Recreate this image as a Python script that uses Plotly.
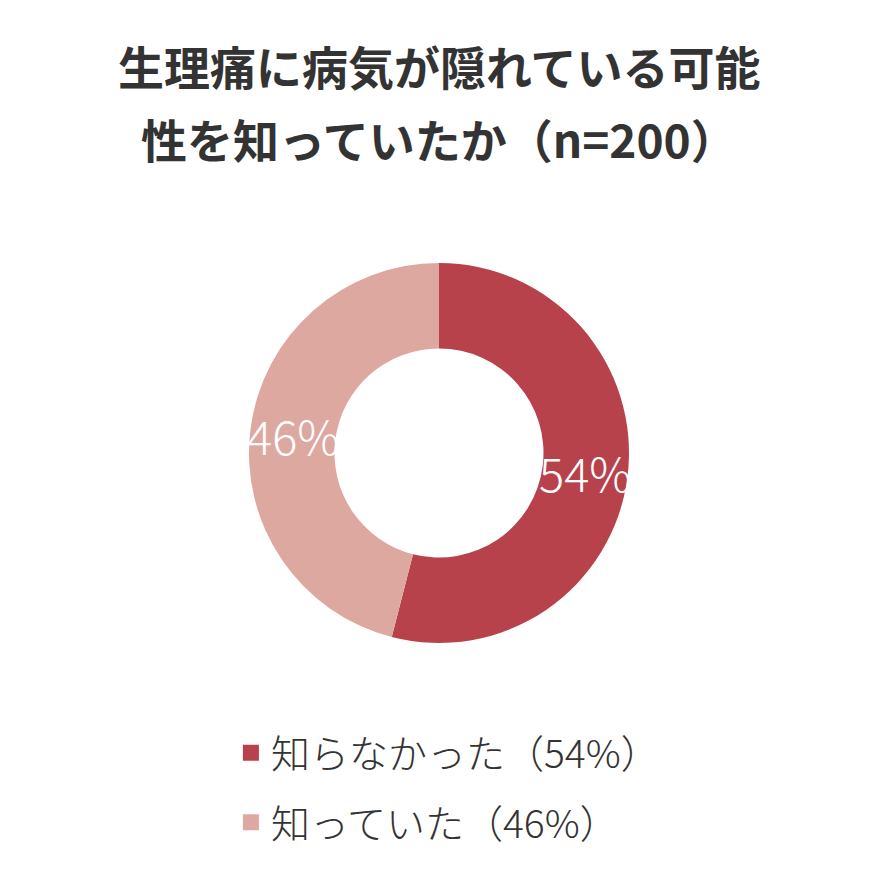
import math
import plotly.graph_objects as go

labels = ["知らなかった", "知っていた"]
values = [54, 46]
colors = ["#B8424B", "#DDA8A0"]
title_lines = ["生理痛に病気が隠れている可能", "性を知っていたか（n=200）"]

FONT = "Noto Sans CJK JP"
LIGHT = "Noto Sans CJK JP Light, Noto Sans CJK JP"
W, H = 878, 879
HOLE = 0.55
dom_x = [0.2836, 0.7164]
dom_y = [0.2685, 0.7008]

fig = go.Figure()
fig.add_trace(go.Pie(
    labels=labels, values=values, hole=HOLE, sort=False, direction="clockwise",
    rotation=0, marker=dict(colors=colors, line=dict(width=0)),
    textinfo="none",
    domain=dict(x=dom_x, y=dom_y),
    showlegend=False, hoverinfo="skip",
))

# percentage labels at the middle angle of each slice, mid-ring radius
cx = (dom_x[0] + dom_x[1]) / 2 * W
cy = (dom_y[0] + dom_y[1]) / 2 * H
r_out = min((dom_x[1] - dom_x[0]) * W, (dom_y[1] - dom_y[0]) * H) / 2
r_mid = r_out * (1 + HOLE) / 2
total = sum(values)
cum = 0
for v in values:
    mid = (cum + v / 2) / total * 2 * math.pi
    cum += v
    px = cx + r_mid * math.sin(mid)
    py = cy + r_mid * math.cos(mid)
    fig.add_annotation(
        x=px / W, y=py / H, xref="paper", yref="paper", showarrow=False,
        text=f"{round(v / total * 100)}%",
        font=dict(family=LIGHT, size=47, color="white", weight=300),
        xanchor="center", yanchor="middle",
    )

for i, (lab, val, col) in enumerate(zip(labels, values, colors)):
    fig.add_trace(go.Scatter(
        x=[None], y=[None], mode="markers", name=f"{lab}（{val}%）",
        legendgroup=f"g{i}",
        marker=dict(symbol="square", size=22, color=col),
        showlegend=True,
    ))

for line, ty in zip(title_lines, [0.926, 0.843]):
    fig.add_annotation(
        x=0.5, y=ty, xref="paper", yref="paper", showarrow=False, text=line,
        xanchor="center", yanchor="middle",
        font=dict(family=FONT, size=46, color="#333333", weight="bold"),
    )

fig.update_layout(
    width=W, height=H, margin=dict(l=0, r=0, t=0, b=0),
    paper_bgcolor="white", plot_bgcolor="white",
    xaxis=dict(visible=False), yaxis=dict(visible=False),
    legend=dict(
        x=0.263, xanchor="left", y=0.180, yanchor="top",
        font=dict(family=LIGHT, size=39, color="#333333", weight=300),
        traceorder="grouped", tracegroupgap=16, itemwidth=30,
        bgcolor="rgba(0,0,0,0)",
    ),
)
fig.write_html("out.html", config={"displayModeBar": False},
               post_script="document.body.style.margin='0px';")
